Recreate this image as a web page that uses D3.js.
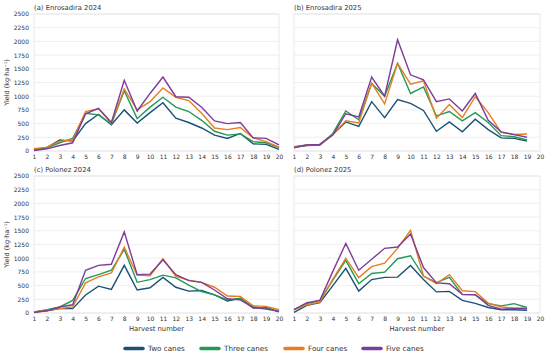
<!DOCTYPE html>
<html>
<head>
<meta charset="utf-8">
<script src="https://cdn.jsdelivr.net/npm/d3@7"></script>
<style>
  body { margin: 0; background: #fff; }
  text { font-family: "DejaVu Sans", sans-serif; fill: #333; }
</style>
</head>
<body>
<div id="chart"></div>
<script>
// series names and colours
const seriesNames = ['Two canes', 'Three canes', 'Four canes', 'Five canes'];
const seriesColors = ['#1a5276', '#229954', '#e67e22', '#7d3c98'];
const yTicks = [0, 250, 500, 750, 1000, 1250, 1500, 1750, 2000, 2250, 2500];
const xTicks = d3.range(1, 21);

// (a) Enrosadira 2024, harvests 1-20
const enr24Two   = [20, 60, 200, 180, 500, 670, 480, 750, 510, 700, 880, 600, 520, 420, 290, 230, 320, 130, 120, 30];
const enr24Three = [30, 60, 150, 230, 690, 660, 490, 1100, 590, 800, 980, 800, 720, 560, 360, 290, 310, 170, 150, 60];
const enr24Four  = [40, 70, 180, 200, 720, 770, 510, 1130, 750, 900, 1150, 980, 920, 690, 420, 390, 430, 240, 170, 70];
const enr24Five  = [10, 40, 100, 150, 680, 780, 520, 1290, 730, 1050, 1350, 990, 980, 800, 550, 500, 520, 240, 230, 110];

// (b) Enrosadira 2025, harvests 1-19
const enr25Two   = [70, 100, 110, 300, 530, 450, 900, 610, 940, 870, 740, 360, 530, 350, 580, 390, 240, 230, 180];
const enr25Three = [80, 110, 120, 320, 730, 570, 1230, 1000, 1600, 1050, 1170, 640, 720, 550, 700, 520, 280, 260, 200];
const enr25Four  = [70, 110, 120, 300, 550, 510, 1240, 860, 1600, 1220, 1280, 600, 850, 610, 990, 700, 340, 300, 310];
const enr25Five  = [60, 110, 120, 290, 680, 620, 1350, 1000, 2030, 1390, 1300, 900, 950, 730, 1050, 560, 350, 300, 250];

// (c) Polonez 2024, harvests 1-20
const pol24Two   = [20, 40, 80, 80, 330, 490, 430, 870, 420, 460, 650, 470, 400, 410, 330, 220, 270, 90, 100, 20];
const pol24Three = [20, 60, 110, 230, 630, 700, 780, 1160, 560, 610, 690, 640, 510, 390, 330, 240, 260, 110, 90, 30];
const pol24Four  = [20, 50, 80, 110, 550, 660, 730, 1200, 690, 680, 990, 670, 600, 560, 470, 310, 300, 130, 120, 60];
const pol24Five  = [10, 40, 110, 150, 780, 870, 890, 1480, 700, 710, 970, 700, 590, 560, 420, 260, 240, 100, 70, 30];

// (d) Polonez 2025, harvests 1-19
const pol25Two   = [10, 140, 190, 500, 815, 400, 610, 650, 655, 865, 610, 385, 395, 230, 175, 100, 60, 60, 50];
const pol25Three = [60, 170, 230, 600, 960, 535, 720, 745, 990, 1045, 675, 555, 650, 335, 330, 170, 130, 170, 100];
const pol25Four  = [60, 150, 200, 620, 1000, 645, 845, 910, 1180, 1510, 675, 535, 700, 405, 390, 180, 110, 90, 90];
const pol25Five  = [60, 190, 230, 760, 1270, 780, 980, 1180, 1205, 1440, 830, 550, 535, 340, 335, 140, 70, 80, 80];

const panels = [
  { title: '(a) Enrosadira 2024', series: [enr24Two, enr24Three, enr24Four, enr24Five], x0: 34, x1: 279, y0: 14, y1: 151, yLabels: true, xLabel: false },
  { title: '(b) Enrosadira 2025', series: [enr25Two, enr25Three, enr25Four, enr25Five], x0: 294, x1: 540, y0: 14, y1: 151, yLabels: false, xLabel: false },
  { title: '(c) Polonez 2024', series: [pol24Two, pol24Three, pol24Four, pol24Five], x0: 34, x1: 279, y0: 176, y1: 313, yLabels: true, xLabel: true },
  { title: '(d) Polonez 2025', series: [pol25Two, pol25Three, pol25Four, pol25Five], x0: 294, x1: 540, y0: 176, y1: 313, yLabels: false, xLabel: true }
];

const width = 550;
const height = 358;

const svg = d3.select('#chart')
  .append('svg')
  .attr('width', width)
  .attr('height', height);

panels.forEach((p) => {
  const x = d3.scaleLinear().domain([1, 20]).range([p.x0, p.x1]);
  const y = d3.scaleLinear().domain([0, 2500]).range([p.y1, p.y0]);
  const g = svg.append('g');

  // horizontal grid
  g.selectAll('.grid')
    .data(yTicks)
    .enter()
    .append('line')
    .attr('x1', p.x0).attr('x2', p.x1)
    .attr('y1', (d) => y(d)).attr('y2', (d) => y(d))
    .attr('stroke', '#ebebeb')
    .attr('stroke-width', 0.8);

  // frame
  g.append('rect')
    .attr('x', p.x0).attr('y', p.y0)
    .attr('width', p.x1 - p.x0).attr('height', p.y1 - p.y0)
    .attr('fill', 'none')
    .attr('stroke', '#e3e3e3')
    .attr('stroke-width', 0.8);

  // axes (labels only)
  const xAxis = d3.axisBottom(x).tickValues(xTicks).tickSize(0).tickPadding(4).tickFormat(d3.format('d'));
  const gx = g.append('g').attr('transform', `translate(0,${p.y1})`).call(xAxis);
  gx.select('.domain').remove();
  gx.selectAll('text').style('font-size', '6px').attr('fill', '#444');

  const yAxis = d3.axisLeft(y).tickValues(yTicks).tickSize(0).tickPadding(5)
    .tickFormat(p.yLabels ? d3.format('d') : () => '');
  const gy = g.append('g').attr('transform', `translate(${p.x0},0)`).call(yAxis);
  gy.select('.domain').remove();
  gy.selectAll('text').style('font-size', '6px').attr('fill', '#444');

  // title
  g.append('text')
    .attr('x', p.x0)
    .attr('y', p.y0 - 4)
    .style('font-size', '6.8px')
    .text(p.title);

  if (p.yLabels) {
    g.append('text')
      .attr('transform', `translate(9,${(p.y0 + p.y1) / 2}) rotate(-90)`)
      .attr('text-anchor', 'middle')
      .style('font-size', '6.5px')
      .text('Yield (kg·ha⁻¹)');
  }
  if (p.xLabel) {
    g.append('text')
      .attr('x', (p.x0 + p.x1) / 2)
      .attr('y', p.y1 + 18)
      .attr('text-anchor', 'middle')
      .style('font-size', '6.8px')
      .text('Harvest number');
  }

  const line = d3.line()
    .x((d, i) => x(i + 1))
    .y((d) => y(d));

  g.selectAll('.series')
    .data(p.series)
    .enter()
    .append('path')
    .attr('d', line)
    .attr('fill', 'none')
    .attr('stroke', (d, i) => seriesColors[i])
    .attr('stroke-width', 1.4)
    .attr('stroke-linejoin', 'miter');
});

// legend
const legendX = [124, 200, 284, 362];
const legend = svg.append('g');
seriesNames.forEach((name, i) => {
  legend.append('line')
    .attr('x1', legendX[i] + 1).attr('x2', legendX[i] + 19)
    .attr('y1', 348.5).attr('y2', 348.5)
    .attr('stroke', seriesColors[i])
    .attr('stroke-width', 3.5)
    .attr('stroke-linecap', 'round');
  legend.append('text')
    .attr('x', legendX[i] + 24)
    .attr('y', 351)
    .style('font-size', '7.2px')
    .text(name);
});
</script>
</body>
</html>
